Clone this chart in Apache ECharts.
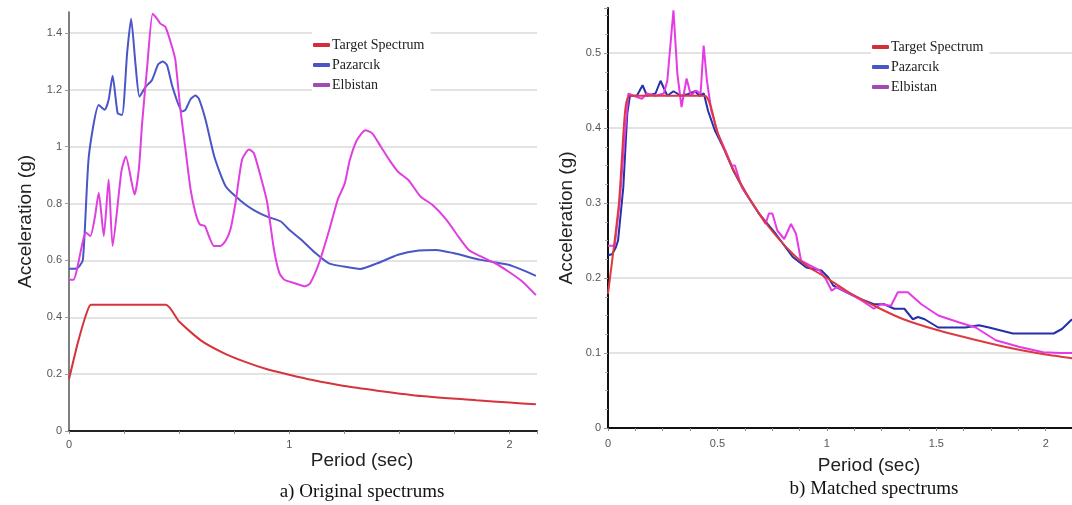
<!DOCTYPE html>
<html>
<head>
<meta charset="utf-8">
<script src="https://cdn.jsdelivr.net/npm/echarts@6/dist/echarts.min.js"></script>
<style>
  html, body { margin: 0; padding: 0; background: #fff; }
  #chart { width: 1072px; height: 505px; }
</style>
</head>
<body>
<div id="chart"></div>
<script>
// a) original spectrums
const targetOrigT = [0, 0.04, 0.08, 0.1, 0.44, 0.5, 0.6, 0.7, 0.8, 0.9, 1.0, 1.1, 1.25, 1.4, 1.6, 1.85, 2.0, 2.12]
const targetOrigA = [0.182, 0.31, 0.415, 0.444, 0.444, 0.385, 0.318, 0.275, 0.243, 0.217, 0.198, 0.18, 0.158, 0.142, 0.123, 0.108, 0.1, 0.094]

const pazOrigT = [0, 0.036, 0.063, 0.09, 0.135, 0.162, 0.18, 0.198, 0.221, 0.241, 0.264, 0.282, 0.302, 0.32, 0.347, 0.377, 0.405, 0.426, 0.445, 0.47, 0.514, 0.529, 0.552, 0.574, 0.589, 0.62, 0.66, 0.712, 0.775, 0.837, 0.9, 0.962, 1.0, 1.056, 1.119, 1.18, 1.244, 1.322, 1.4, 1.494, 1.588, 1.667, 1.745, 1.87, 1.995, 2.058, 2.12]
const pazOrigA = [0.571, 0.572, 0.602, 0.966, 1.147, 1.13, 1.165, 1.25, 1.118, 1.112, 1.33, 1.45, 1.29, 1.176, 1.21, 1.235, 1.29, 1.3, 1.287, 1.21, 1.124, 1.13, 1.167, 1.18, 1.17, 1.095, 0.965, 0.86, 0.813, 0.778, 0.754, 0.737, 0.708, 0.672, 0.626, 0.59, 0.579, 0.57, 0.59, 0.62, 0.635, 0.637, 0.626, 0.602, 0.585, 0.567, 0.546]

const elbOrigT = [0, 0.02, 0.077, 0.097, 0.117, 0.135, 0.158, 0.18, 0.198, 0.238, 0.258, 0.298, 0.317, 0.332, 0.355, 0.38, 0.4, 0.415, 0.438, 0.468, 0.483, 0.506, 0.529, 0.552, 0.574, 0.594, 0.617, 0.635, 0.658, 0.688, 0.711, 0.733, 0.756, 0.786, 0.817, 0.839, 0.87, 0.9, 0.931, 0.955, 0.978, 1.025, 1.072, 1.095, 1.135, 1.182, 1.22, 1.252, 1.275, 1.307, 1.346, 1.377, 1.416, 1.455, 1.494, 1.541, 1.596, 1.651, 1.714, 1.768, 1.815, 1.87, 1.933, 1.995, 2.058, 2.12]
const elbOrigA = [0.532, 0.532, 0.698, 0.686, 0.75, 0.838, 0.686, 0.885, 0.651, 0.914, 0.966, 0.832, 0.92, 1.083, 1.281, 1.468, 1.45, 1.433, 1.421, 1.351, 1.305, 1.13, 0.99, 0.85, 0.768, 0.727, 0.721, 0.686, 0.651, 0.651, 0.669, 0.709, 0.803, 0.955, 0.99, 0.978, 0.896, 0.803, 0.637, 0.556, 0.532, 0.52, 0.509, 0.52, 0.59, 0.708, 0.813, 0.871, 0.953, 1.023, 1.058, 1.047, 1.0, 0.953, 0.912, 0.883, 0.825, 0.795, 0.743, 0.684, 0.637, 0.614, 0.591, 0.561, 0.526, 0.478]

// b) matched spectrums
const targetMatchT = [0, 0.05, 0.077, 0.098, 0.441, 0.5, 0.565, 0.64, 0.735, 0.845, 0.92, 1.0, 1.1, 1.23, 1.35, 1.5, 1.7, 1.85, 2.0, 2.12]
const targetMatchA = [0.179, 0.3, 0.419, 0.443, 0.443, 0.394, 0.349, 0.309, 0.268, 0.232, 0.214, 0.2, 0.181, 0.161, 0.145, 0.131, 0.116, 0.106, 0.098, 0.093]

const pazMatchT = [0, 0.02, 0.036, 0.046, 0.07, 0.088, 0.1, 0.132, 0.158, 0.178, 0.217, 0.24, 0.271, 0.299, 0.333, 0.364, 0.398, 0.418, 0.438, 0.457, 0.488, 0.534, 0.573, 0.627, 0.689, 0.766, 0.844, 0.906, 0.975, 1.006, 1.029, 1.076, 1.153, 1.215, 1.262, 1.308, 1.354, 1.393, 1.416, 1.447, 1.509, 1.633, 1.695, 1.741, 1.85, 2.036, 2.074, 2.12]
const pazMatchA = [0.23, 0.232, 0.241, 0.25, 0.321, 0.419, 0.443, 0.443, 0.457, 0.443, 0.446, 0.463, 0.443, 0.449, 0.443, 0.445, 0.449, 0.443, 0.446, 0.423, 0.397, 0.37, 0.343, 0.314, 0.286, 0.259, 0.228, 0.214, 0.21, 0.201, 0.19, 0.183, 0.172, 0.165, 0.165, 0.159, 0.159, 0.145, 0.148, 0.145, 0.134, 0.134, 0.137, 0.134, 0.126, 0.126, 0.132, 0.145]

const elbMatchT = [0, 0.031, 0.054, 0.077, 0.093, 0.116, 0.155, 0.178, 0.217, 0.255, 0.271, 0.299, 0.317, 0.336, 0.359, 0.379, 0.402, 0.423, 0.437, 0.452, 0.472, 0.503, 0.542, 0.565, 0.58, 0.611, 0.673, 0.72, 0.735, 0.751, 0.774, 0.805, 0.836, 0.859, 0.882, 0.921, 0.967, 0.998, 1.022, 1.045, 1.107, 1.169, 1.215, 1.246, 1.293, 1.324, 1.37, 1.432, 1.509, 1.602, 1.68, 1.772, 1.881, 1.989, 2.067, 2.12]
const elbMatchA = [0.243, 0.243, 0.303, 0.392, 0.446, 0.443, 0.439, 0.446, 0.443, 0.446, 0.463, 0.557, 0.472, 0.428, 0.466, 0.443, 0.45, 0.446, 0.51, 0.463, 0.423, 0.392, 0.366, 0.35, 0.35, 0.321, 0.294, 0.272, 0.286, 0.286, 0.263, 0.252, 0.272, 0.259, 0.223, 0.217, 0.21, 0.197, 0.183, 0.188, 0.179, 0.168, 0.159, 0.165, 0.163, 0.181, 0.181, 0.165, 0.15, 0.141, 0.134, 0.117, 0.108, 0.101, 0.1, 0.1]

const seriesNames = ['Target Spectrum', 'Pazarcık', 'Elbistan']

function pairs(t, a) {
  return t.map((v, i) => [v, a[i]])
}

const chart = echarts.init(document.getElementById('chart'))

const tickLabel = { fontSize: 11, color: '#555', fontFamily: 'Liberation Sans, Arial, sans-serif' }
const axisName = { fontSize: 19, color: '#222', fontFamily: 'Liberation Sans, Arial, sans-serif' }
const gridLine = { show: true, showMaxLine: false, lineStyle: { color: '#dadada', width: 1.5 } }

function legendFor(left, top) {
  return {
    orient: 'vertical',
    left: left,
    top: top,
    padding: [6, 6, 6, 1],
    backgroundColor: '#fff',
    itemWidth: 17,
    itemHeight: 4,
    itemGap: 4,
    icon: 'roundRect',
    selectedMode: false,
    textStyle: { fontSize: 14, color: '#222', fontFamily: 'Liberation Serif, Times New Roman, serif', lineHeight: 16, padding: [0, 0, 0, -3] },
    data: [
      { name: seriesNames[0], itemStyle: { color: '#d52d3a' } },
      { name: seriesNames[1], itemStyle: { color: '#4a55c6' } },
      { name: seriesNames[2], itemStyle: { color: '#a24ab4' } },
    ],
  }
}

function line(name, data, color, grid, smooth) {
  return {
    name: name,
    type: 'line',
    xAxisIndex: grid,
    yAxisIndex: grid,
    data: data,
    showSymbol: false,
    smooth: smooth,
    lineStyle: { color: color, width: 2 },
    itemStyle: { color: color },
    z: name === seriesNames[0] ? 3 : 2,
  }
}

const option = {
  animation: false,
  backgroundColor: '#fff',
  grid: [
    { left: 69, top: 12, width: 468, height: 419 },
    { left: 608, top: 8, width: 464, height: 420 },
  ],
  legend: [legendFor(312, 31), legendFor(871, 33)],
  xAxis: [
    {
      gridIndex: 0, type: 'value', min: 0, max: 2.125, interval: 1,
      axisLine: { lineStyle: { color: '#222', width: 2 } },
      axisTick: { show: true, length: 3, lineStyle: { color: '#888' } },
      minorTick: { show: true, splitNumber: 4, length: 3, lineStyle: { color: '#888' } },
      axisLabel: Object.assign({ showMaxLabel: false, margin: 8 }, tickLabel),
      splitLine: { show: false },
    },
    {
      gridIndex: 1, type: 'value', min: 0, max: 2.12, interval: 0.5,
      axisLine: { lineStyle: { color: '#111', width: 2 } },
      axisTick: { show: true, length: 3, lineStyle: { color: '#888' } },
      minorTick: { show: true, splitNumber: 4, length: 3, lineStyle: { color: '#888' } },
      axisLabel: Object.assign({ showMaxLabel: false, margin: 10 }, tickLabel),
      splitLine: { show: false },
    },
  ],
  yAxis: [
    {
      gridIndex: 0, type: 'value', min: 0, max: 1.474, interval: 0.2,
      name: 'Acceleration (g)', nameLocation: 'middle', nameGap: 34, nameTextStyle: axisName,
      axisLine: { show: true, lineStyle: { color: '#555', width: 1.5 } },
      axisTick: { show: true, length: 4, lineStyle: { color: '#999' } },
      axisLabel: Object.assign({ showMaxLabel: false, margin: 7 }, tickLabel),
      splitLine: gridLine,
    },
    {
      gridIndex: 1, type: 'value', min: 0, max: 0.56, interval: 0.1,
      name: 'Acceleration (g)', nameLocation: 'middle', nameGap: 32, nameTextStyle: axisName,
      axisLine: { show: true, lineStyle: { color: '#111', width: 2 } },
      axisTick: { show: true, length: 4, lineStyle: { color: '#999' } },
      minorTick: { show: true, splitNumber: 4, length: 3, lineStyle: { color: '#aaa' } },
      axisLabel: Object.assign({ showMaxLabel: false, margin: 7 }, tickLabel),
      splitLine: gridLine,
    },
  ],
  graphic: [
    { type: 'text', x: 362, y: 461, style: { text: 'Period (sec)', font: '19px "Liberation Sans", Arial, sans-serif', fill: '#222', align: 'center', verticalAlign: 'middle', textAlign: 'center', textVerticalAlign: 'middle' } },
    { type: 'text', x: 362, y: 492, style: { text: 'a) Original spectrums', font: '19px "Liberation Serif", "Times New Roman", serif', fill: '#111', align: 'center', verticalAlign: 'middle', textAlign: 'center', textVerticalAlign: 'middle' } },
    { type: 'text', x: 869, y: 466, style: { text: 'Period (sec)', font: '19px "Liberation Sans", Arial, sans-serif', fill: '#222', align: 'center', verticalAlign: 'middle', textAlign: 'center', textVerticalAlign: 'middle' } },
    { type: 'text', x: 874, y: 489, style: { text: 'b) Matched spectrums', font: '19px "Liberation Serif", "Times New Roman", serif', fill: '#111', align: 'center', verticalAlign: 'middle', textAlign: 'center', textVerticalAlign: 'middle' } },
  ],
  series: [
    line(seriesNames[1], pairs(pazOrigT, pazOrigA), '#4a55c6', 0, 0.2),
    line(seriesNames[2], pairs(elbOrigT, elbOrigA), '#e03fe0', 0, 0.2),
    line(seriesNames[0], pairs(targetOrigT, targetOrigA), '#d6343c', 0, 0.2),
    line(seriesNames[1], pairs(pazMatchT, pazMatchA), '#2430a8', 1, false),
    line(seriesNames[2], pairs(elbMatchT, elbMatchA), '#e63ae6', 1, false),
    line(seriesNames[0], pairs(targetMatchT, targetMatchA), '#dc3a40', 1, 0.2),
  ],
}

chart.setOption(option)
</script>
</body>
</html>
